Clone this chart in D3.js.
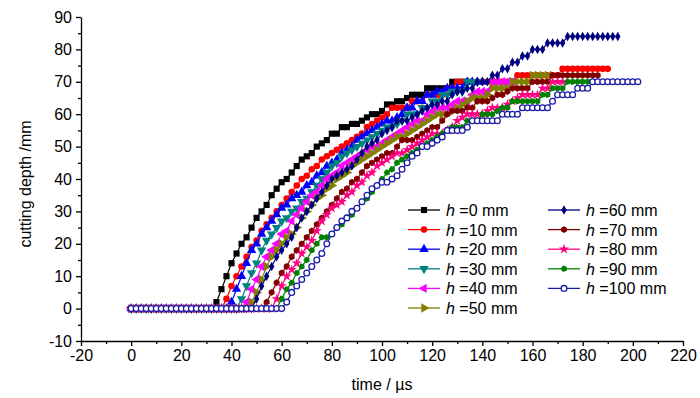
<!DOCTYPE html>
<html>
<head>
<meta charset="utf-8">
<script src="https://cdn.jsdelivr.net/npm/d3@7"></script>
<style>
body { margin: 0; background: #fff; }
text { font-family: "Liberation Sans", Arial, sans-serif; fill: #000; }
</style>
</head>
<body>
<svg id="chart" width="700" height="398"></svg>
<script>
// samples are taken every 2 µs starting at t = 0
const sampleStep = 2

const xTicks = [-20, 0, 20, 40, 60, 80, 100, 120, 140, 160, 180, 200, 220]
const xMinor = [-10, 10, 30, 50, 70, 90, 110, 130, 150, 170, 190, 210]
const yTicks = [-10, 0, 10, 20, 30, 40, 50, 60, 70, 80, 90]
const yMinor = [-5, 5, 15, 25, 35, 45, 55, 65, 75, 85]

const heights = [0, 10, 20, 30, 40, 50, 60, 70, 80, 90, 100]

// cutting depth (mm) per sample
const depth0 = [0,0,0,0,0,0,0,0,0,0,0,0,0,0,0,0,0,
	2,6,10,14,17,20,22,25,28,30,32,35,37,39,40,42,44,46,47,48,
	50,51,52,54,54,56,56,57,57,58,59,60,60,61,63,63,64,64,65,66,
	66,66,68,68,68,68,68,70,70,70,70]
const depth10 = [0,0,0,0,0,0,0,0,0,0,0,0,0,0,0,0,0,0,0,
	3,7,10,13,16,19,21,24,26,28,30,32,34,36,38,40,41,43,44,46,
	47,48,49,50,51,52,53,54,56,57,58,59,60,62,62,62,62,64,64,64,
	66,66,66,66,68,68,70,70,70,70,70,70,70,70,70,70,70,70,
	72,72,72,72,72,72,72,72,72,74,74,74,74,74,74,74,74,74,74]
const depth20 = [0,0,0,0,0,0,0,0,0,0,0,0,0,0,0,0,0,0,0,0,
	2,6,10,14,18,20,23,25,27,29,31,32,34,35,36,38,39,41,42,44,
	45,46,48,49,50,52,53,54,55,56,57,58,58,59,60,62,62,64,64,66,
	66,67,67,68,68,68,68,70,70,70,70]
const depth30 = [0,0,0,0,0,0,0,0,0,0,0,0,0,0,0,0,0,0,0,0,0,0,
	3,7,11,14,18,21,23,25,27,28,30,31,33,34,36,38,40,42,44,45,
	47,48,49,50,51,52,53,54,55,56,56,57,58,60,60,60,62,62,64,64,
	66,66,67,67,67,70,70,70]
const depth40 = [0,0,0,0,0,0,0,0,0,0,0,0,0,0,0,0,0,0,0,0,0,0,0,
	2,6,9,13,16,18,20,23,24,27,29,31,33,35,36,38,40,41,42,44,
	45,46,47,48,49,50,50,51,52,53,54,55,56,57,58,58,60,61,62,62,
	62,63,64,64,64,66,67,67,67,70,70,70,70,70]
const depth50 = [0,0,0,0,0,0,0,0,0,0,0,0,0,0,0,0,0,0,0,0,0,0,0,0,
	2,5,9,13,16,18,20,22,23,25,28,30,32,34,35,37,38,40,41,42,
	44,45,46,47,48,49,50,51,52,53,53,54,55,56,57,58,59,60,60,60,
	61,62,63,64,65,65,65,66,68,68,68,68,70,70,70,70,72,72,72,72,72]
const depth60 = [0,0,0,0,0,0,0,0,0,0,0,0,0,0,0,0,0,0,0,0,0,0,0,0,0,
	3,7,10,13,16,18,20,22,25,28,30,32,34,36,38,40,41,42,43,44,
	46,48,50,51,52,54,55,56,58,58,58,59,60,61,62,63,63,64,64,66,
	67,67,68,68,70,70,70,72,72,74,74,76,76,78,78,80,80,80,82,82,
	82,82,84,84,84,84,84,84,84,84,84,84,84]
const depth70 = [0,0,0,0,0,0,0,0,0,0,0,0,0,0,0,0,0,0,0,0,0,0,0,0,0,0,0,
	2,5,8,11,13,16,18,20,22,24,26,28,30,32,34,36,37,39,40,42,
	44,45,46,47,48,48,50,52,52,52,53,54,55,56,56,58,60,61,61,61,
	62,62,64,64,64,65,66,66,67,68,68,68,68,70,70,70,70,
	72,72,72,72,72,72,72,72,72,72]
const depth80 = [0,0,0,0,0,0,0,0,0,0,0,0,0,0,0,0,0,0,0,0,0,0,0,0,0,0,0,0,0,
	3,7,10,12,14,17,19,21,24,27,29,31,32,33,35,36,38,39,41,42,
	44,45,46,47,48,48,49,50,51,52,53,54,54,54,55,56,58,59,60,60,
	60,60,61,62,62,62,63,64,65,66,66,66,66,68,68,70,70,70]
const depth90 = [0,0,0,0,0,0,0,0,0,0,0,0,0,0,0,0,0,0,0,0,0,0,0,0,0,0,0,0,0,0,
	3,6,8,11,13,15,18,20,22,22,23,25,26,28,29,31,33,34,36,38,
	40,42,43,45,46,47,48,49,50,51,52,53,54,55,56,56,56,58,58,58,
	60,60,60,61,62,62,64,64,64,64,64,64,66,66,68,68,68,70,70,70,
	70,70]
const depth100 = [0,0,0,0,0,0,0,0,0,0,0,0,0,0,0,0,0,0,0,0,0,0,0,0,0,0,0,0,0,0,0,
	2,5,7,9,11,13,15,17,20,23,25,27,28,30,31,33,35,37,38,39,
	39,40,41,43,45,47,48,50,50,51,52,53,55,55,55,55,56,58,58,58,
	58,58,58,60,60,60,60,62,62,62,62,62,62,64,66,66,66,66,68,68,
	68,70,70,70,70,70,70,70,70,70,70]

const seriesDepths = [depth0, depth10, depth20, depth30, depth40, depth50, depth60, depth70, depth80, depth90, depth100]
const seriesColors = ["#000000", "#ff0000", "#0000ff", "#008080", "#ff00ff", "#808000", "#000080", "#800000", "#ff0080", "#008000", "#1c1ca8"]
const seriesShapes = ["square", "circle", "triUp", "triDown", "triLeft", "triRight", "diamond", "hexagon", "star", "pentLeft", "ring"]

const hexagon = {
	draw(ctx, size) {
		const r = Math.sqrt(size / (1.5 * Math.sqrt(3)))
		for (let i = 0; i < 6; i++) {
			const a = Math.PI / 3 * i + Math.PI / 6
			i ? ctx.lineTo(r * Math.cos(a), r * Math.sin(a)) : ctx.moveTo(r * Math.cos(a), r * Math.sin(a))
		}
		ctx.closePath()
	}
}
const pentagon = {
	draw(ctx, size) {
		const r = Math.sqrt(size / 2.378)
		for (let i = 0; i < 5; i++) {
			const a = -Math.PI / 2 + i * 2 * Math.PI / 5
			i ? ctx.lineTo(r * Math.cos(a), r * Math.sin(a)) : ctx.moveTo(r * Math.cos(a), r * Math.sin(a))
		}
		ctx.closePath()
	}
}

const shapeDefs = {
	square: { type: d3.symbolSquare, size: 38, rot: 0 },
	circle: { type: d3.symbolCircle, size: 34, rot: 0 },
	triUp: { type: d3.symbolTriangle, size: 38, rot: 0 },
	triDown: { type: d3.symbolTriangle, size: 38, rot: 180 },
	triLeft: { type: d3.symbolTriangle, size: 38, rot: -90 },
	triRight: { type: d3.symbolTriangle, size: 38, rot: 90 },
	diamond: { type: d3.symbolDiamond, size: 26, rot: 0 },
	hexagon: { type: hexagon, size: 30, rot: 0 },
	star: { type: d3.symbolStar, size: 32, rot: 0 },
	pentLeft: { type: pentagon, size: 28, rot: -90 },
	ring: { type: d3.symbolCircle, size: 26, rot: 0, open: true }
}

const svg = d3.select("#chart")
const x = d3.scaleLinear().domain([-20, 220]).range([81, 683])
const y = d3.scaleLinear().domain([-10, 90]).range([341, 17])
const plain = d => String(d) // hyphen minus, as in the original

// minor ticks first, then the labelled axes
svg.append("g").attr("transform", "translate(0,341)")
	.call(d3.axisBottom(x).tickValues(xMinor).tickSize(3).tickSizeOuter(0).tickFormat(""))
	.call(g => g.select(".domain").remove())
svg.append("g").attr("transform", "translate(81,0)")
	.call(d3.axisLeft(y).tickValues(yMinor).tickSize(3).tickSizeOuter(0).tickFormat(""))
	.call(g => g.select(".domain").remove())

const xAxis = svg.append("g").attr("transform", "translate(0,341)")
	.call(d3.axisBottom(x).tickValues(xTicks).tickFormat(plain).tickSize(5).tickSizeOuter(0).tickPadding(4))
const yAxis = svg.append("g").attr("transform", "translate(81,0)")
	.call(d3.axisLeft(y).tickValues(yTicks).tickFormat(plain).tickSize(5).tickSizeOuter(0).tickPadding(4))
svg.selectAll(".tick line, .domain").attr("stroke", "#000").attr("stroke-width", 1.3)
xAxis.selectAll("text").attr("font-size", 16).attr("font-family", null)
yAxis.selectAll("text").attr("font-size", 16).attr("font-family", null)

svg.append("text")
	.attr("x", 382).attr("y", 390)
	.attr("text-anchor", "middle").attr("font-size", 16)
	.text("time / µs")
svg.append("text")
	.attr("transform", "translate(31,184) rotate(-90)")
	.attr("text-anchor", "middle").attr("font-size", 16)
	.text("cutting depth /mm")

const symbolPath = shape => d3.symbol().type(shapeDefs[shape].type).size(shapeDefs[shape].size)()

const line = d3.line().x(d => x(d[0])).y(d => y(d[1]))
const plot = svg.append("g")

seriesDepths.forEach((depths, k) => {
	const pts = depths.map((v, i) => [i * sampleStep, v])
	const color = seriesColors[k]
	const def = shapeDefs[seriesShapes[k]]
	const g = plot.append("g")
	g.append("path")
		.attr("d", line(pts))
		.attr("fill", "none")
		.attr("stroke", color)
		.attr("stroke-width", 1.2)
	g.selectAll("path.mark")
		.data(pts)
		.join("path")
		.attr("class", "mark")
		.attr("d", symbolPath(seriesShapes[k]))
		.attr("transform", d => `translate(${x(d[0])},${y(d[1])}) rotate(${def.rot})`)
		.attr("fill", def.open ? "#fff" : color)
		.attr("stroke", def.open ? color : "none")
		.attr("stroke-width", 1.3)
})

// legend, two columns
const legend = svg.append("g")
heights.forEach((h, k) => {
	const col = k < 6 ? 0 : 1
	const row = k < 6 ? k : k - 6
	const lx = col ? 548 : 408
	const ly = 210 + row * 19.6
	const def = shapeDefs[seriesShapes[k]]
	const item = legend.append("g")
	item.append("line")
		.attr("x1", lx).attr("x2", lx + 32)
		.attr("y1", ly).attr("y2", ly)
		.attr("stroke", seriesColors[k]).attr("stroke-width", 1.3)
	item.append("path")
		.attr("d", symbolPath(seriesShapes[k]))
		.attr("transform", `translate(${lx + 16},${ly}) rotate(${def.rot})`)
		.attr("fill", def.open ? "#fff" : seriesColors[k])
		.attr("stroke", def.open ? seriesColors[k] : "none")
		.attr("stroke-width", 1.3)
	const t = item.append("text")
		.attr("x", lx + 38).attr("y", ly + 6)
		.attr("font-size", 16)
	t.append("tspan").attr("font-style", "italic").text("h")
	t.append("tspan").text(` =${h} mm`)
})
</script>
</body>
</html>
